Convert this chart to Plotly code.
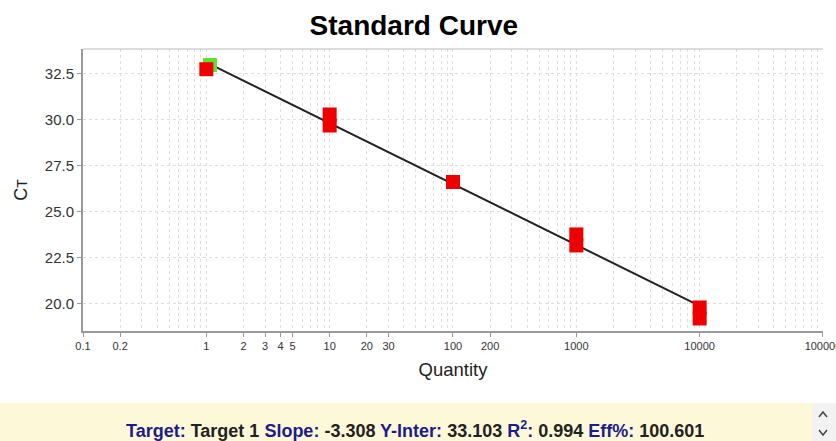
import plotly.graph_objects as go
import math

# ---- data ----
std_quantity = [1, 10, 10, 100, 1000, 1000, 10000, 10000]
std_ct = [32.73, 30.27, 29.67, 26.60, 23.75, 23.15, 19.78, 19.18]
unk_quantity = [1.07]
unk_ct = [32.96]
slope = -3.308
y_inter = 33.103
r2 = 0.994
eff = 100.601
target = "Target 1"
fit_range = [1, 10000]

x_tick_vals = [0.1, 0.2, 1, 2, 3, 4, 5, 10, 20, 30, 100, 200, 1000, 10000, 100000]
x_tick_text = ["0.1", "0.2", "1", "2", "3", "4", "5", "10", "20", "30", "100", "200", "1000", "10000", "100000"]
y_tick_vals = [20.0, 22.5, 25.0, 27.5, 30.0, 32.5]

# minor grid positions (1..9 x each decade)
minor_vals = []
for e in range(-1, 5):
    for m in range(1, 10):
        minor_vals.append(round(m * 10 ** e, 6))

fit_x = fit_range
fit_y = [y_inter + slope * math.log10(v) for v in fit_x]

W, H = 836, 441
L, R, T, B = 83, 823, 49, 331
def px(x):
    return (x - L) / (R - L)
def py(y):
    return (B - y) / (B - T)

fig = go.Figure()
fig.add_trace(go.Scatter(x=fit_x, y=fit_y, mode="lines",
                         line=dict(color="#222222", width=2), hoverinfo="skip"))
fig.add_trace(go.Scatter(x=unk_quantity, y=unk_ct, mode="markers",
                         marker=dict(symbol="square", size=14, color="#66dd33", line=dict(width=0))))
fig.add_trace(go.Scatter(x=std_quantity, y=std_ct, mode="markers",
                         marker=dict(symbol="square", size=14, color="#ee0000", line=dict(width=0))))

font = "Liberation Sans, Arial, sans-serif"
grid = "#dedede"
fig.update_layout(
    width=W, height=H,
    margin=dict(l=L, r=W - R, t=T, b=H - B, autoexpand=False),
    paper_bgcolor="white", plot_bgcolor="white",
    showlegend=False,
    font=dict(family=font, color="#222222"),
    title=dict(text="<b>Standard Curve</b>", x=0.495, xanchor="center", y=1 - 25 / H, yanchor="middle",
               font=dict(size=28, color="black", family=font), automargin=False),
    xaxis=dict(type="log", range=[-1, 5.0001], tickvals=x_tick_vals, ticktext=x_tick_text, automargin=False,
               ticklabeloverflow="allow",
               tickfont=dict(size=11, color="#333333"), ticks="outside", ticklen=4, tickcolor="#999999",
               showgrid=False, zeroline=False,
               showline=True, linecolor="#999999", linewidth=2,
               minor=dict(tickvals=minor_vals, showgrid=True, gridcolor=grid, griddash="3px,3px", gridwidth=1, ticks=""),
               title=dict(text="Quantity", font=dict(size=18.5, color="#222222"), standoff=12)),
    yaxis=dict(range=[18.5, 33.83], tickvals=y_tick_vals, tickformat=".1f", automargin=False,
               tickfont=dict(size=15, color="#333333"), ticks="outside", ticklen=4, tickcolor="#999999",
               showgrid=True, gridcolor=grid, griddash="3px,3px", zeroline=False,
               showline=True, linecolor="#999999", linewidth=2,
               title=dict(text="C<span style='font-size:14px'>T</span>", font=dict(size=18, color="#222222"), standoff=12)),
    shapes=[
        dict(type="line", xref="paper", yref="paper", x0=0, x1=1, y0=1, y1=1,
             line=dict(color="#bbbbbb", width=1)),
        dict(type="rect", xref="paper", yref="paper", x0=px(0), x1=px(812), y0=py(403), y1=py(441),
             fillcolor="#fdf9d8", line=dict(width=0), layer="below"),
        dict(type="rect", xref="paper", yref="paper", x0=px(812), x1=px(836), y0=py(403), y1=py(441),
             fillcolor="#f2f2f2", line=dict(width=0), layer="below"),
        dict(type="path", xref="paper", yref="paper",
             path=f"M {px(819)} {py(417)} L {px(823)} {py(412)} L {px(827)} {py(417)}",
             line=dict(color="#444444", width=1.5)),
        dict(type="path", xref="paper", yref="paper",
             path=f"M {px(819)} {py(430)} L {px(823)} {py(435)} L {px(827)} {py(430)}",
             line=dict(color="#444444", width=1.5)),
    ],
)

blue = "#1c1c8a"
txt = (f"<span style='color:{blue}'>Target:</span> {target} "
       f"<span style='color:{blue}'>Slope:</span> {slope:.3f} "
       f"<span style='color:{blue}'>Y-Inter:</span> {y_inter:.3f} "
       f"<span style='color:{blue}'>R<sup>2</sup>:</span> {r2:.3f} "
       f"<span style='color:{blue}'>Eff%:</span> {eff:.3f}")
fig.add_annotation(xref="paper", yref="paper", x=px(415), y=py(430), xanchor="center", yanchor="middle",
                   text="<b>" + txt + "</b>", showarrow=False,
                   font=dict(size=18, family="Liberation Sans Narrow, Arial Narrow, Liberation Sans, sans-serif", color="#222222"))

fig.write_html("out.html", config={"displayModeBar": False},
               post_script="document.body.style.margin='0';document.body.style.overflow='hidden';")
